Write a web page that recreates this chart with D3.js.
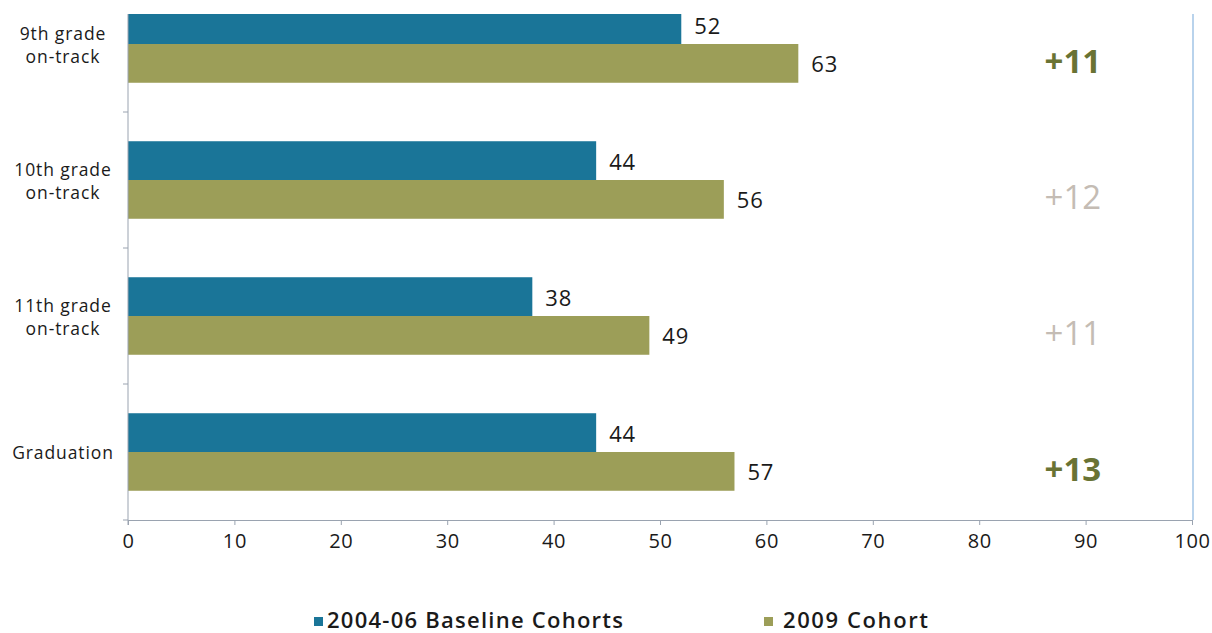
<!DOCTYPE html>
<html>
<head>
<meta charset="utf-8">
<script src="https://cdn.jsdelivr.net/npm/d3@7"></script>
<style>
  html, body { margin: 0; padding: 0; background: #fff; }
  svg { display: block; }
  text { font-family: "Open Sans", "Noto Sans", sans-serif; }
</style>
</head>
<body>
<svg id="chart" width="1212" height="633"></svg>
<script>
// Categories (top to bottom) and series values
const categories = [["9th grade", "on-track"], ["10th grade", "on-track"], ["11th grade", "on-track"], ["Graduation"]];
const categoryKeys = ["9th", "10th", "11th", "grad"];
const baseline = [52, 44, 38, 44];
const cohort2009 = [63, 56, 49, 57];
const highlighted = [true, false, false, true];
const seriesNames = ["2004-06 Baseline Cohorts", "2009 Cohort"];
const xTicks = [0, 10, 20, 30, 40, 50, 60, 70, 80, 90, 100];

const colors = { base: "#1a7598", cohort: "#9c9e58", strong: "#697334", faint: "#c4bcb4", axis: "#9aa3b0", frame: "#b9d3ec" };

const svg = d3.select("#chart");
const left = 128, right = 1192, bottom = 520, bandTop = -24, visibleTop = 14;

const x = d3.scaleLinear().domain([0, 100]).range([left, right]);
const y = d3.scaleBand().domain(categoryKeys).range([bandTop, bottom]).paddingInner(0.43).paddingOuter(0.215);
const ySub = d3.scaleBand().domain(["base", "cohort"]).range([0, y.bandwidth()]);

svg.append("defs").append("clipPath").attr("id", "plotClip")
  .append("rect").attr("x", 0).attr("y", visibleTop).attr("width", 1212).attr("height", bottom - visibleTop + 1);

const plot = svg.append("g").attr("clip-path", "url(#plotClip)");

// right frame line
svg.append("line").attr("x1", right + 1).attr("x2", right + 1).attr("y1", visibleTop).attr("y2", bottom)
  .attr("stroke", colors.frame).attr("stroke-width", 2);

const rows = categoryKeys.map((k, i) => ({ key: k, base: baseline[i], cohort: cohort2009[i], hi: highlighted[i], label: categories[i] }));

const groups = plot.selectAll("g.row").data(rows).join("g").attr("class", "row")
  .attr("transform", d => `translate(0,${y(d.key)})`);

["base", "cohort"].forEach(s => {
  groups.append("rect")
    .attr("x", x(0))
    .attr("y", ySub(s))
    .attr("width", d => x(d[s]) - x(0))
    .attr("height", ySub.bandwidth())
    .attr("fill", colors[s]);
  groups.append("text")
    .attr("x", d => x(d[s]) + 13)
    .attr("y", ySub(s) + ySub.bandwidth() / 2 + 1)
    .attr("dy", "0.36em")
    .attr("font-size", 22)
    .attr("letter-spacing", 0.8)
    .attr("fill", "#1a1a1a")
    .text(d => d[s]);
});

// difference labels
groups.append("text")
  .attr("x", x(88.8))
  .attr("y", ySub("cohort") + ySub.bandwidth() / 2 - 2)
  .attr("dy", "0.36em")
  .attr("text-anchor", "middle")
  .attr("font-size", 33)
  .attr("font-weight", d => d.hi ? 700 : 400)
  .attr("fill", d => d.hi ? colors.strong : colors.faint)
  .text(d => "+" + (d.cohort - d.base));

// x axis
const xAxis = svg.append("g").attr("transform", `translate(0,${bottom})`)
  .call(d3.axisBottom(x).tickValues(xTicks).tickSize(5).tickPadding(9).tickSizeOuter(0));
xAxis.select(".domain").attr("stroke", colors.axis);
xAxis.selectAll(".tick line").attr("stroke", colors.axis);
xAxis.selectAll(".tick text").attr("font-size", 20).attr("letter-spacing", 0.6).attr("fill", "#1a1a1a").attr("font-family", "'Open Sans', sans-serif");

// y axis line and category boundary ticks
svg.append("line").attr("x1", left).attr("x2", left).attr("y1", visibleTop).attr("y2", bottom + 5).attr("stroke", colors.axis);
const step = y.step();
const boundaries = categoryKeys.map(k => y(k) - y.paddingInner() * step / 2 + step);
svg.selectAll("line.ytick").data(boundaries).join("line").attr("class", "ytick")
  .attr("x1", left - 5).attr("x2", left).attr("y1", d => d).attr("y2", d => d).attr("stroke", colors.axis);

// category labels
const catLabels = svg.selectAll("text.cat").data(rows).join("text").attr("class", "cat")
  .attr("x", 63)
  .attr("text-anchor", "middle")
  .attr("font-size", 17.5)
  .attr("letter-spacing", 0.9)
  .attr("fill", "#1a1a1a");
catLabels.each(function(d) {
  const t = d3.select(this);
  const mid = y(d.key) + y.bandwidth() / 2 + 1;
  d.label.forEach((line, j) => {
    t.append("tspan").attr("x", 63)
      .attr("y", mid + (j - (d.label.length - 1) / 2) * 23)
      .attr("dy", "0.36em")
      .text(line);
  });
});

// legend
const legend = [{ name: seriesNames[0], color: colors.base, x: 314, tx: 13, w: 296 }, { name: seriesNames[1], color: colors.cohort, x: 764, tx: 19, w: 145 }];
const lg = svg.selectAll("g.legend").data(legend).join("g").attr("class", "legend")
  .attr("transform", d => `translate(${d.x},620)`);
lg.append("rect").attr("x", 0).attr("y", -3).attr("width", 9).attr("height", 9).attr("fill", d => d.color);
lg.append("text").attr("x", d => d.tx).attr("dy", "0.36em")
  .attr("font-size", 22).attr("font-weight", 600).attr("fill", "#1a1a1a")
  .attr("textLength", d => d.w).attr("lengthAdjust", "spacing")
  .text(d => d.name);
</script>
</body>
</html>
